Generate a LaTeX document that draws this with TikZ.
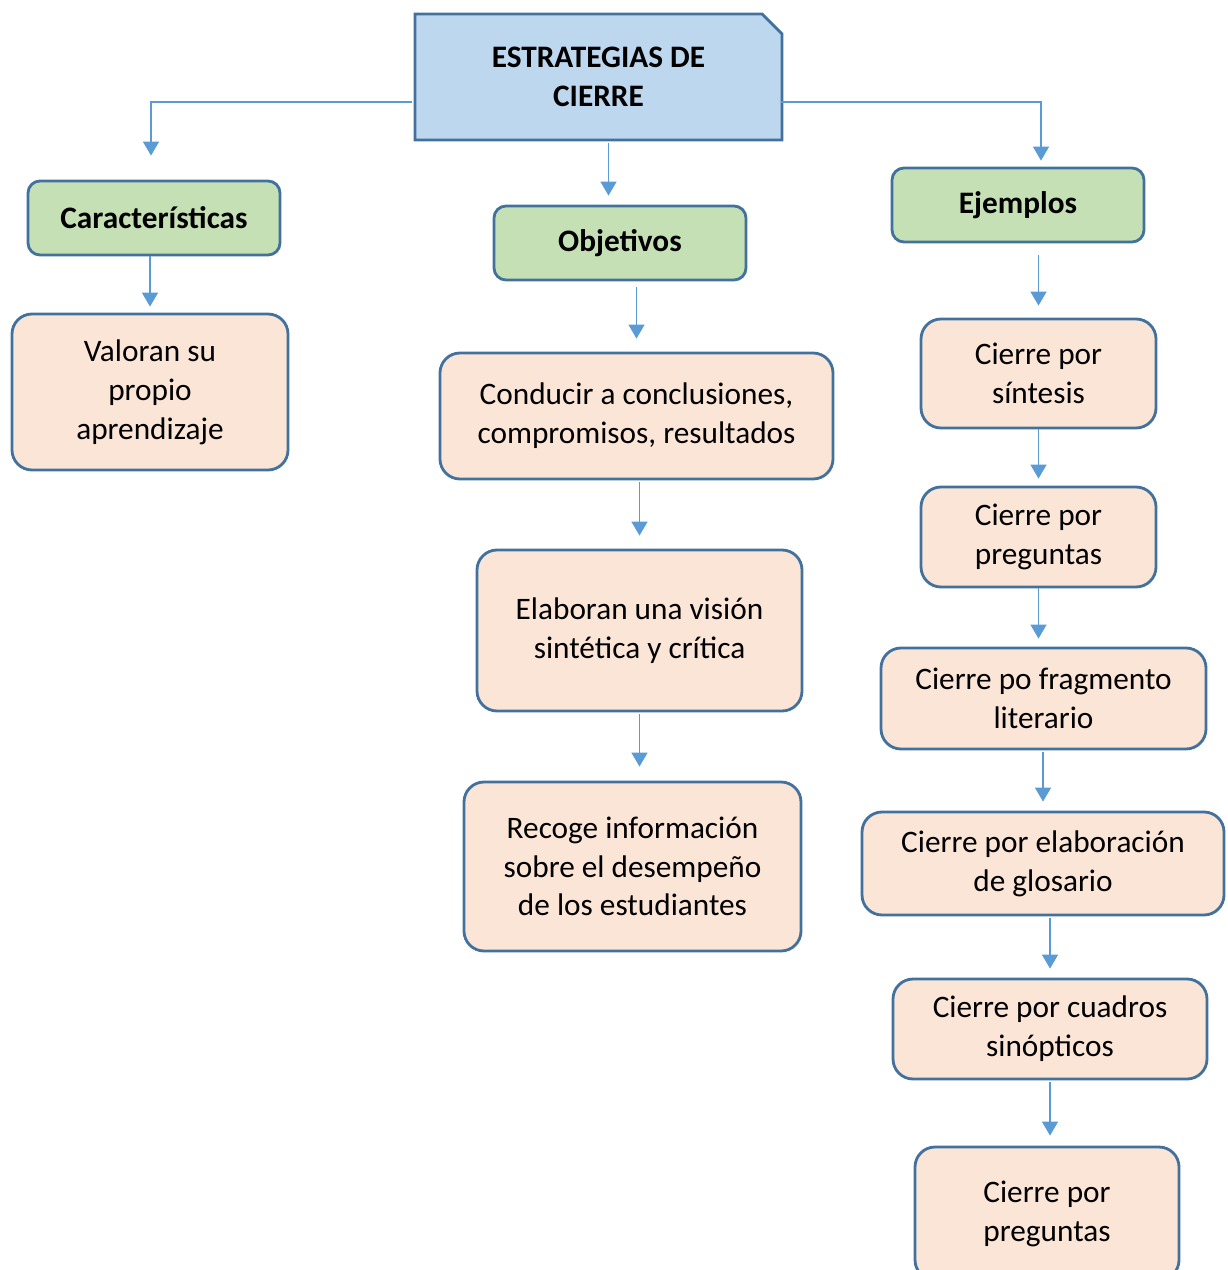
\documentclass[tikz,border=0pt]{standalone}
\usepackage{fontspec}
\setmainfont{Carlito}
\usetikzlibrary{shapes.misc,arrows.meta,calc}
\definecolor{boxline}{RGB}{65,113,156}
\definecolor{linkblue}{RGB}{91,155,213}
\definecolor{rootfill}{RGB}{189,215,238}
\definecolor{headfill}{RGB}{197,224,180}
\definecolor{itemfill}{RGB}{251,229,214}
\tikzset{
  txt/.style={font=\fontsize{17.8}{22.1}\selectfont, align=center, inner sep=0pt},
  rootbox/.style={txt, font=\fontsize{17.8}{22.1}\selectfont\bfseries, chamfered rectangle,
    chamfered rectangle corners=north east, chamfered rectangle sep=0.2cm,
    draw=boxline, fill=rootfill, line width=1.6pt},
  headbox/.style={txt, font=\fontsize{17.8}{22.1}\selectfont\bfseries, rectangle,
    rounded corners=0.24cm, draw=boxline, fill=headfill, line width=1.6pt},
  itembox/.style={txt, rectangle, rounded corners=0.4cm, draw=boxline, fill=itemfill,
    line width=1.6pt},
  link/.style={draw=linkblue, line width=0.85pt, -{Triangle[length=0.28cm,width=0.32cm]},
    shorten >=0.2cm, shorten <=0.04cm}
}
\begin{document}
\begin{tikzpicture}[x=0.02cm,y=-0.02cm]
  \useasboundingbox (0,0) rectangle (1227,1270);
  \node[rootbox, minimum width=367*0.02cm, minimum height=126*0.02cm] (root) at (598.5,77) {ESTRATEGIAS DE\\CIERRE};

  \node[headbox, minimum width=252*0.02cm, minimum height=74*0.02cm] (carac) at (154,218) {Características};
  \node[headbox, minimum width=252*0.02cm, minimum height=74*0.02cm] (obj) at (620,243) {Objetivos};
  \node[headbox, minimum width=252*0.02cm, minimum height=74*0.02cm] (ejem) at (1018,205) {Ejemplos};

  \node[itembox, minimum width=276*0.02cm, minimum height=156*0.02cm] (valoran) at (150,392) {Valoran su\\propio\\aprendizaje};

  \node[itembox, minimum width=393*0.02cm, minimum height=126*0.02cm] (conducir) at (636.5,416) {Conducir a conclusiones,\\compromisos, resultados};
  \node[itembox, minimum width=325*0.02cm, minimum height=161*0.02cm] (elaboran) at (639.5,630.5) {Elaboran una visión\\sintética y crítica};
  \node[itembox, minimum width=337*0.02cm, minimum height=169*0.02cm] (recoge) at (632.5,866.5) {Recoge información\\sobre el desempeño\\de los estudiantes};

  \node[itembox, minimum width=235*0.02cm, minimum height=109*0.02cm] (sintesis) at (1038.5,373.5) {Cierre por\\síntesis};
  \node[itembox, minimum width=235*0.02cm, minimum height=100*0.02cm] (preg) at (1038.5,537) {Cierre por\\preguntas};
  \node[itembox, minimum width=325*0.02cm, minimum height=101*0.02cm] (frag) at (1043.5,698.5) {Cierre po fragmento\\literario};
  \node[itembox, minimum width=362*0.02cm, minimum height=103*0.02cm] (glos) at (1043,863.5) {Cierre por elaboración\\de glosario};
  \node[itembox, minimum width=314*0.02cm, minimum height=100*0.02cm] (cuadros) at (1050,1029) {Cierre por cuadros\\sinópticos};
  \node[itembox, minimum width=264*0.02cm, minimum height=133*0.02cm] (preg2) at (1047,1213.5) {Cierre por\\preguntas};

  \coordinate (rs) at ($(root.south)+(10,0)$);
  \draw[link, shorten >=0.48cm] ($(root.west)+(0,25)$) -| ($(carac.north)+(-3,0)$);
  \draw[link, shorten >=0.18cm] (rs) -- (rs |- obj.north);
  \draw[link, shorten >=0.12cm] ($(root.east)+(-4,25)$) -| ($(ejem.north)+(23,0)$);

  \draw[link, shorten <=0pt, shorten >=0.12cm] (carac.south -| valoran.north) -- (valoran.north);
  \draw[link, shorten <=0.12cm, shorten >=0.26cm] (obj.south -| conducir.north) -- (conducir.north);
  \draw[link, shorten >=0.26cm] (conducir.south -| elaboran.north) -- (elaboran.north);
  \draw[link, shorten >=0.28cm] (elaboran.south) -- (elaboran.south |- recoge.north);

  \draw[link, shorten <=0.24cm, shorten >=0.24cm] (ejem.south -| sintesis.north) -- (sintesis.north);
  \draw[link, shorten <=0pt, shorten >=0.14cm] (sintesis.south -| preg.north) -- (preg.north);
  \draw[link, shorten <=0pt, shorten >=0.16cm] (preg.south) -- (preg.south |- frag.north);
  \draw[link, shorten >=0.18cm] (frag.south -| glos.north) -- (glos.north);
  \draw[link, shorten >=0.18cm] (glos.south -| cuadros.north) -- (cuadros.north);
  \draw[link] (cuadros.south) -- (cuadros.south |- preg2.north);
\end{tikzpicture}
\end{document}
